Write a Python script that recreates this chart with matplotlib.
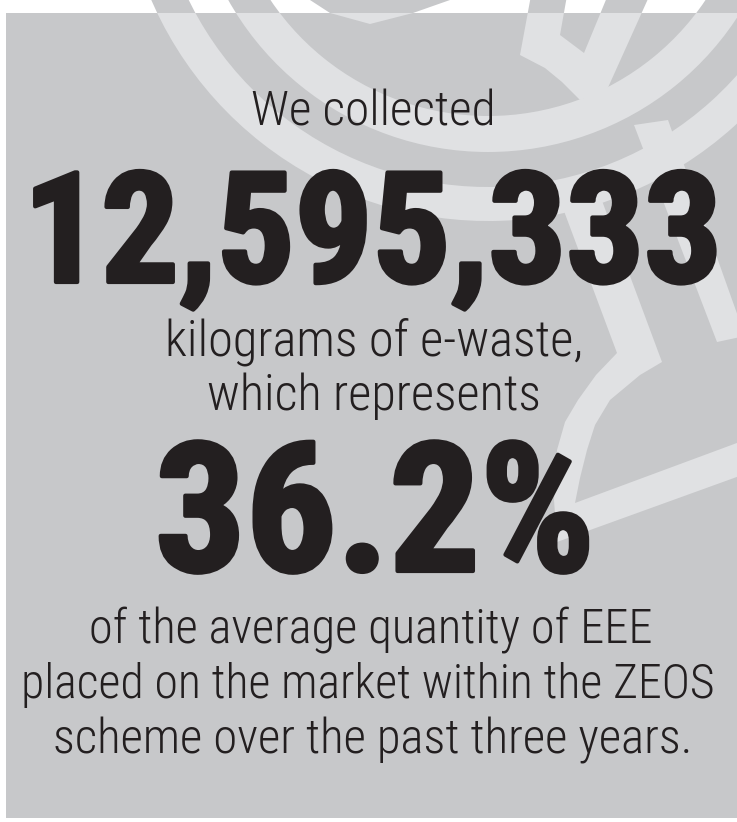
import matplotlib
matplotlib.use("Agg")
import matplotlib.pyplot as plt
from matplotlib import font_manager as fm
from matplotlib import patheffects as pe
from matplotlib.patches import Rectangle, Wedge, Polygon

# ---------------- data ----------------
collected_kg = 12595333
share_pct = 36.2
intro_line = "We collected"
middle_lines = ["kilograms of e-waste,", "which represents"]
closing_lines = ["of the average quantity of EEE",
                 "placed on the market within the ZEOS",
                 "scheme over the past three years."]

# ---------------- style ----------------
W, H = 737, 822
BG_GRAY = "#c7c8ca"
LIGHT = "#e0e1e3"
INK = "#231f20"

ttf = fm.fontManager.ttflist
names = {f.name for f in ttf}
name_stretch = {(f.name, str(f.stretch)) for f in ttf}
if "Roboto Condensed" in names:
    FAM, STRETCH = "Roboto Condensed", "normal"
elif ("Noto Sans", "condensed") in name_stretch:
    FAM, STRETCH = "Noto Sans", "condensed"
elif "Liberation Sans Narrow" in names:
    FAM, STRETCH = "Liberation Sans Narrow", "normal"
elif ("DejaVu Sans", "condensed") in name_stretch:
    FAM, STRETCH = "DejaVu Sans", "condensed"
else:
    FAM, STRETCH = "Roboto", "normal"

fig = plt.figure(figsize=(W / 100, H / 100), dpi=100)
ax = fig.add_axes([0, 0, 1, 1])
ax.set_xlim(0, W)
ax.set_ylim(H, 0)
ax.axis("off")

# ---------------- background logo shapes ----------------
C = (488, -146)

def shapes():
    out = []
    out.append(Wedge(C, 298, 12, 168, width=36))          # inner ring
    out.append(Wedge(C, 367, 8, 168, width=34))           # outer ring
    out.append(Polygon([(295, -10), (310, 0), (330, 13), (370, 24),
                        (413, 13), (450, 0), (465, -10)]))   # arrow tip
    out.append(Polygon([(532, -10), (568, -10), (560, 35), (584, 53),
                        (610, -10), (652, -10), (606, 92), (580, 100),
                        (562, 82), (545, 68), (520, 55)]))     # Y junction
    out.append(Polygon([(558, 195), (598, 190), (662, 362), (640, 375),
                        (610, 400), (595, 425), (587, 450), (580, 478),
                        (575, 503), (745, 440), (745, 474), (557, 542),
                        (554, 500), (557, 450), (565, 422), (578, 400),
                        (596, 375), (617, 353)]))              # V + sector
    out.append(Polygon([(634, 125), (668, 120), (745, 336), (717, 342)]))  # diagonal
    return out

rect = Rectangle((6, 13), W, 805, facecolor=BG_GRAY, edgecolor="none", zorder=2)
for p in shapes():
    p.set_facecolor(BG_GRAY); p.set_edgecolor("none"); p.set_zorder(1)
    ax.add_patch(p)
ax.add_patch(rect)
for p in shapes():
    p.set_facecolor(LIGHT); p.set_edgecolor("none"); p.set_zorder(3)
    ax.add_patch(p)
    p.set_clip_path(rect)

# ---------------- text ----------------
renderer = fig.canvas.get_renderer()

def put(txt, xc, base, width, weight, stroke=0.0):
    t = ax.text(xc, base, txt, ha="center", va="baseline", color=INK,
                family=FAM, fontstretch=STRETCH, fontweight=weight,
                fontsize=40, zorder=5)
    w = t.get_window_extent(renderer).width
    t.set_fontsize(40 * (width - stroke * 100 / 72) / w)
    if stroke:
        t.set_path_effects([pe.withStroke(linewidth=stroke, foreground=INK)])
    return t

put(intro_line, 373.5, 125, 245, "light")
put(f"{collected_kg:,}", 372.5, 282, 703, "bold", stroke=3.0)
put(middle_lines[0], 374, 355, 418, "light")
put(middle_lines[1], 374, 410, 334, "light")
put(f"{share_pct}%", 375, 571, 444, "bold", stroke=3.0)
put(closing_lines[0], 371, 643, 564, "light")
put(closing_lines[1], 367.5, 698, 693, "light")
put(closing_lines[2], 372.5, 753, 641, "light")

fig.savefig("out.png", dpi=100, facecolor="white")
